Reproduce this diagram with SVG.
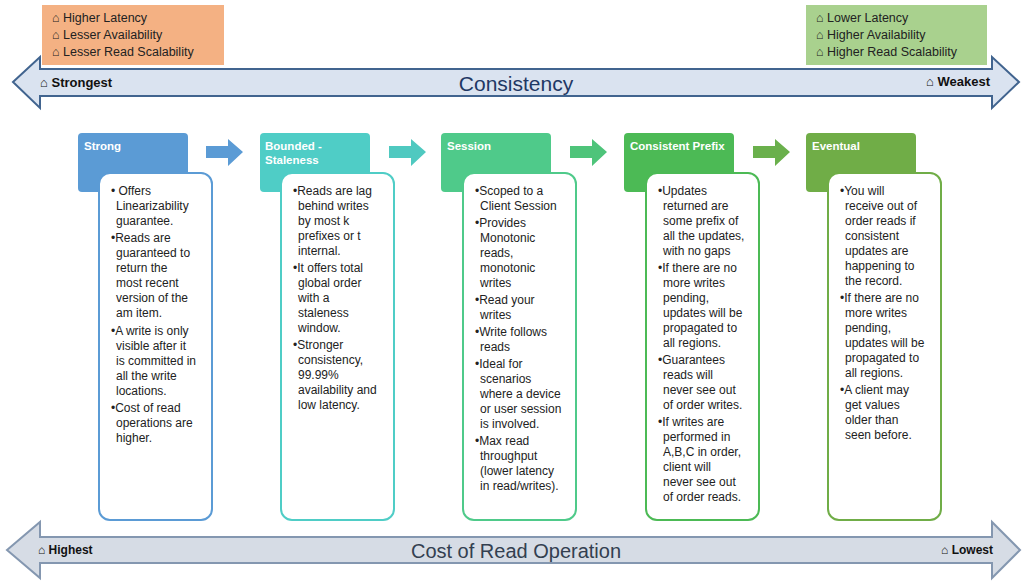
<svg xmlns="http://www.w3.org/2000/svg" width="1024" height="588" viewBox="0 0 1024 588">
<style>
text{font-family:"Liberation Sans",Arial,sans-serif}
.t{font-size:12px;fill:#222}
.h{font-size:11.5px;font-weight:bold;fill:#fff}
.lg{font-size:12.5px;fill:#222}
.det{fill:#fff;stroke-width:2}
</style>
<rect x="0" y="0" width="1024" height="588" fill="#fff"/>
<g id="legend-left"><rect x="42" y="5" width="182" height="60" fill="#f4b183"/>
<text class="lg" x="52" y="22">⌂ Higher Latency</text><text class="lg" x="52" y="39">⌂ Lesser Availability</text><text class="lg" x="52" y="56">⌂ Lesser Read Scalability</text></g>
<g id="legend-right"><rect x="806" y="5" width="181" height="60" fill="#a9d18e"/>
<text class="lg" x="816" y="22">⌂ Lower Latency</text><text class="lg" x="816" y="39">⌂ Higher Availability</text><text class="lg" x="816" y="56">⌂ Higher Read Scalability</text></g>
<g id="consistency-axis">
<path d="M13,82 L40,57 L40,69 L992,69 L992,57 L1019,82 L992,108 L992,96 L40,96 L40,108 Z" fill="#dae3f0" stroke="#41648f" stroke-width="2"/>
<text x="40" y="87" font-size="13" font-weight="bold" fill="#111">⌂ Strongest</text>
<text x="516" y="91" font-size="21" fill="#1f3864" text-anchor="middle">Consistency</text>
<text x="990" y="86" font-size="13" font-weight="bold" fill="#111" text-anchor="end">⌂ Weakest</text></g>
<g id="cost-axis">
<path d="M7,550 L40,522 L40,537 L992,537 L992,522 L1020,550 L992,578 L992,563 L40,563 L40,578 Z" fill="#d6dce5" stroke="#8497b0" stroke-width="2"/>
<text x="38" y="554" font-size="12" font-weight="bold" fill="#111">⌂ Highest</text>
<text x="516" y="558" font-size="20" fill="#333f50" text-anchor="middle">Cost of Read Operation</text>
<text x="993" y="554" font-size="12" font-weight="bold" fill="#111" text-anchor="end">⌂ Lowest</text></g>
<g id="connectors">
<path d="M206,146 L228,146 L228,139 L243,152 L228,166 L228,158 L206,158 Z" fill="#5b9bd5"/>
<path d="M389,146 L411,146 L411,139 L426,152 L411,166 L411,158 L389,158 Z" fill="#4fc9c0"/>
<path d="M570,146 L592,146 L592,139 L607,152 L592,166 L592,158 L570,158 Z" fill="#4ec47a"/>
<path d="M753,146 L775,146 L775,139 L790,152 L775,166 L775,158 L753,158 Z" fill="#6ab04c"/>
</g>
<g id="strong"><rect x="78" y="133" width="110" height="59" rx="4" fill="#5b9bd5"/><text class="h" x="84" y="150">Strong</text>
<rect class="det" x="99" y="173" width="113" height="347" rx="11" stroke="#5b9bd5"/>
<text class="t"><tspan x="111" y="195">• Offers</tspan><tspan x="116" dy="15">Linearizability</tspan><tspan x="116" dy="15">guarantee.</tspan>
<tspan x="111" dy="17">•Reads are</tspan><tspan x="116" dy="15">guaranteed to</tspan><tspan x="116" dy="15">return the</tspan><tspan x="116" dy="15">most recent</tspan><tspan x="116" dy="15">version of the</tspan><tspan x="116" dy="15">am item.</tspan>
<tspan x="111" dy="18">•A write is only</tspan><tspan x="116" dy="15">visible after it</tspan><tspan x="116" dy="15">is committed in</tspan><tspan x="116" dy="15">all the write</tspan><tspan x="116" dy="15">locations.</tspan>
<tspan x="111" dy="17">•Cost of read</tspan><tspan x="116" dy="15">operations are</tspan><tspan x="116" dy="15">higher.</tspan></text></g>
<g id="bounded"><rect x="260" y="133" width="110" height="59" rx="4" fill="#4fcdc6"/><text class="h" x="265" y="150">Bounded -</text><text class="h" x="265" y="164">Staleness</text>
<rect class="det" x="281" y="173" width="113" height="347" rx="11" stroke="#4fcdc6"/>
<text class="t"><tspan x="293" y="195">•Reads are lag</tspan><tspan x="298" dy="15">behind writes</tspan><tspan x="298" dy="15">by most k</tspan><tspan x="298" dy="15">prefixes or t</tspan><tspan x="298" dy="15">internal.</tspan>
<tspan x="293" dy="17">•It offers total</tspan><tspan x="298" dy="15">global order</tspan><tspan x="298" dy="15">with a</tspan><tspan x="298" dy="15">staleness</tspan><tspan x="298" dy="15">window.</tspan>
<tspan x="293" dy="17">•Stronger</tspan><tspan x="298" dy="15">consistency,</tspan><tspan x="298" dy="15">99.99%</tspan><tspan x="298" dy="15">availability and</tspan><tspan x="298" dy="15">low latency.</tspan></text></g>
<g id="session"><rect x="441" y="133" width="110" height="59" rx="4" fill="#4fca8a"/><text class="h" x="447" y="150">Session</text>
<rect class="det" x="463" y="173" width="113" height="347" rx="11" stroke="#4fca8a"/>
<text class="t"><tspan x="475" y="195">•Scoped to a</tspan><tspan x="480" dy="15">Client Session</tspan>
<tspan x="475" dy="17">•Provides</tspan><tspan x="480" dy="15">Monotonic</tspan><tspan x="480" dy="15">reads,</tspan><tspan x="480" dy="15">monotonic</tspan><tspan x="480" dy="15">writes</tspan>
<tspan x="475" dy="17">•Read your</tspan><tspan x="480" dy="15">writes</tspan>
<tspan x="475" dy="17">•Write follows</tspan><tspan x="480" dy="15">reads</tspan>
<tspan x="475" dy="17">•Ideal for</tspan><tspan x="480" dy="15">scenarios</tspan><tspan x="480" dy="15">where a device</tspan><tspan x="480" dy="15">or user session</tspan><tspan x="480" dy="15">is involved.</tspan>
<tspan x="475" dy="17">•Max read</tspan><tspan x="480" dy="15">throughput</tspan><tspan x="480" dy="15">(lower latency</tspan><tspan x="480" dy="15">in read/writes).</tspan></text></g>
<g id="prefix"><rect x="624" y="133" width="110" height="59" rx="4" fill="#4cba55"/><text class="h" x="630" y="150">Consistent Prefix</text>
<rect class="det" x="646" y="173" width="113" height="347" rx="11" stroke="#4cba55"/>
<text class="t"><tspan x="658" y="195">•Updates</tspan><tspan x="663" dy="15">returned are</tspan><tspan x="663" dy="15">some prefix of</tspan><tspan x="663" dy="15">all the updates,</tspan><tspan x="663" dy="15">with no gaps</tspan>
<tspan x="658" dy="17">•If there are no</tspan><tspan x="663" dy="15">more writes</tspan><tspan x="663" dy="15">pending,</tspan><tspan x="663" dy="15">updates will be</tspan><tspan x="663" dy="15">propagated to</tspan><tspan x="663" dy="15">all regions.</tspan>
<tspan x="658" dy="17">•Guarantees</tspan><tspan x="663" dy="15">reads will</tspan><tspan x="663" dy="15">never see out</tspan><tspan x="663" dy="15">of order writes.</tspan>
<tspan x="658" dy="17">•If  writes are</tspan><tspan x="663" dy="15">performed in</tspan><tspan x="663" dy="15">A,B,C in order,</tspan><tspan x="663" dy="15">client will</tspan><tspan x="663" dy="15">never see out</tspan><tspan x="663" dy="15">of order reads.</tspan></text></g>
<g id="eventual"><rect x="806" y="133" width="110" height="59" rx="4" fill="#70ad47"/><text class="h" x="812" y="150">Eventual</text>
<rect class="det" x="828" y="173" width="113" height="347" rx="11" stroke="#70ad47"/>
<text class="t"><tspan x="840" y="195">•You will</tspan><tspan x="845" dy="15">receive out of</tspan><tspan x="845" dy="15">order reads if</tspan><tspan x="845" dy="15">consistent</tspan><tspan x="845" dy="15">updates are</tspan><tspan x="845" dy="15">happening to</tspan><tspan x="845" dy="15">the record.</tspan>
<tspan x="840" dy="17">•If there are no</tspan><tspan x="845" dy="15">more writes</tspan><tspan x="845" dy="15">pending,</tspan><tspan x="845" dy="15">updates will be</tspan><tspan x="845" dy="15">propagated to</tspan><tspan x="845" dy="15">all regions.</tspan>
<tspan x="840" dy="17">•A client may</tspan><tspan x="845" dy="15">get values</tspan><tspan x="845" dy="15">older  than</tspan><tspan x="845" dy="15">seen before.</tspan></text></g>
</svg>
